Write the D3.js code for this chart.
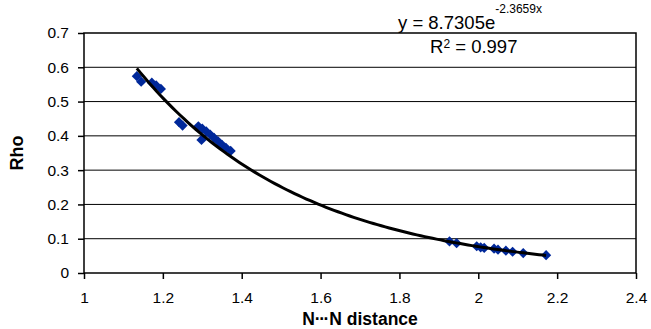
<!DOCTYPE html>
<html>
<head>
<meta charset="utf-8">
<script src="https://cdn.jsdelivr.net/npm/d3@7/dist/d3.min.js"></script>
<style>
  body { margin: 0; background: #fff; }
  svg { display: block; font-family: "Liberation Sans", Arial, sans-serif; }
  .grid line { stroke: #000; stroke-width: 1; }
  .axis path { display: none; }
  .axis line { stroke: #000; stroke-width: 1.5; }
  .axis text { font-size: 15.5px; fill: #000; }
</style>
</head>
<body>
<svg id="chart" width="651" height="329"></svg>
<script>
// N...N distance vs rho
var distances = [
  1.134, 1.145, 1.172, 1.183, 1.195, 1.241, 1.250, 1.298,
  1.290, 1.300, 1.310, 1.320, 1.330, 1.340, 1.350, 1.360, 1.372,
  1.927, 1.945, 1.996, 2.006, 2.015, 2.040, 2.050, 2.070, 2.087, 2.114, 2.172
];
var rhoValues = [
  0.574, 0.558, 0.555, 0.547, 0.537, 0.440, 0.430, 0.388,
  0.428, 0.421, 0.413, 0.404, 0.394, 0.384, 0.374, 0.365, 0.356,
  0.092, 0.087, 0.078, 0.075, 0.073, 0.071, 0.068, 0.065, 0.062, 0.058, 0.052
];
var xTicks = [1, 1.2, 1.4, 1.6, 1.8, 2, 2.2, 2.4];
var yTicks = [0, 0.1, 0.2, 0.3, 0.4, 0.5, 0.6, 0.7];

// exponential trendline, as printed on the chart
var trendA = 8.7305;
var trendB = -2.3659;
var trendR2 = '0.997';

const plot = { left: 84, right: 636, top: 33, bottom: 273 };

var svg = d3.select('#chart');

var x = d3.scaleLinear().domain([1, 2.4]).range([plot.left, plot.right]);
var y = d3.scaleLinear().domain([0, 0.7]).range([plot.bottom, plot.top]);

// gridlines
svg.append('g')
  .classed('grid', true)
  .selectAll('line')
  .data(yTicks.slice(1, -1))
  .enter()
  .append('line')
  .attr('x1', plot.left)
  .attr('x2', plot.right)
  .attr('y1', y)
  .attr('y2', y);

// plot frame
svg.append('rect')
  .attr('x', plot.left)
  .attr('y', plot.top)
  .attr('width', plot.right - plot.left)
  .attr('height', plot.bottom - plot.top)
  .attr('fill', 'none')
  .attr('stroke', '#000')
  .attr('stroke-width', 1.5);

svg.append('g')
  .classed('axis', true)
  .attr('transform', `translate(0,${plot.bottom})`)
  .call(d3.axisBottom(x).tickValues(xTicks).tickFormat(d3.format('')).tickSize(6).tickPadding(13));

svg.append('g')
  .classed('axis', true)
  .attr('transform', `translate(${plot.left},0)`)
  .call(d3.axisLeft(y).tickValues(yTicks).tickFormat(d3.format('')).tickSize(6).tickPadding(9));

// markers
var diamond = d3.symbol().type(d3.symbolSquare).size(52);
svg.append('g')
  .selectAll('path')
  .data(distances)
  .enter()
  .append('path')
  .attr('d', diamond)
  .attr('fill', '#00289a')
  .attr('transform', (d, i) => `translate(${x(d)},${y(rhoValues[i])}) rotate(45)`);

// trendline over the markers
var x0 = d3.min(distances);
var x1 = d3.max(distances);
var trend = d3.range(x0, x1, 0.01).concat([x1]).map(d => [d, trendA * Math.exp(trendB * d)]);
svg.append('path')
  .datum(trend)
  .attr('fill', 'none')
  .attr('stroke', '#000')
  .attr('stroke-width', 3)
  .attr('d', d3.line().x(d => x(d[0])).y(d => y(d[1])));

// equation label
var eq = svg.append('text').attr('x', 398).attr('y', 29).style('font-size', '18.5px');
eq.append('tspan').text('y = ' + trendA + 'e');
eq.append('tspan').attr('dy', -16).style('font-size', '12px').text(trendB + 'x');

var r2 = svg.append('text').attr('x', 430).attr('y', 53).style('font-size', '18.5px');
r2.append('tspan').text('R');
r2.append('tspan').attr('dy', -5.5).style('font-size', '12px').text('2');
r2.append('tspan').attr('dy', 5.5).text(' = ' + trendR2);

// axis titles
var xTitle = svg.append('text')
  .attr('x', (plot.left + plot.right) / 2)
  .attr('y', 325)
  .attr('text-anchor', 'middle')
  .style('font-size', '17.5px')
  .style('font-weight', 'bold');
xTitle.append('tspan').text('N');
xTitle.append('tspan').style('letter-spacing', '-1.5px').text('\u00b7\u00b7\u00b7');
xTitle.append('tspan').attr('dx', 1.5).text('N distance');

svg.append('text')
  .attr('transform', `translate(23,${(plot.top + plot.bottom) / 2}) rotate(-90)`)
  .attr('text-anchor', 'middle')
  .style('font-size', '18px')
  .style('font-weight', 'bold')
  .text('Rho');
</script>
</body>
</html>
